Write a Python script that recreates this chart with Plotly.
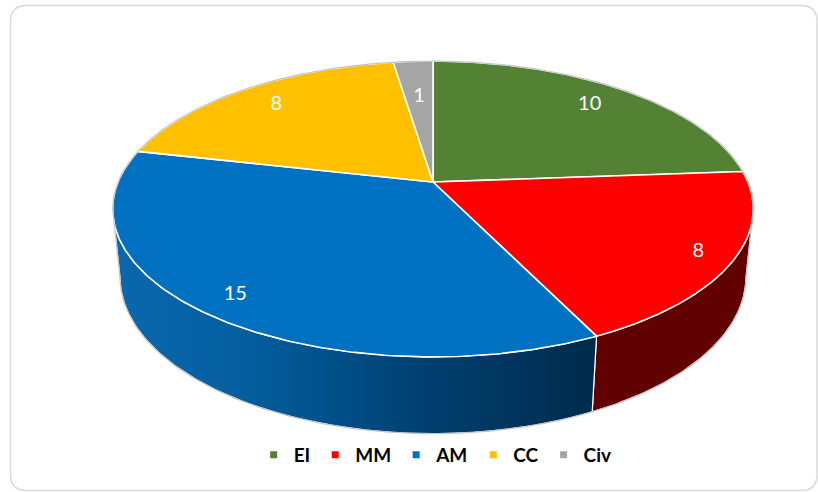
import numpy as np
import plotly.graph_objects as go

# ---------------- data ----------------
categories = ["EI", "MM", "AM", "CC", "Civ"]
values = [10, 8, 15, 8, 1]
top_colors = ["#548235", "#FF0000", "#0070C0", "#FFC000", "#A5A5A5"]
side_colors = ["#2E4A1D", "#600000", "#003E6B", "#8C6A00", "#5A5A5A"]

# ---------------- 3D-pie projection (layout parameters) ----------------
W, H_PX = 818, 492
CX, CY = 433.0, 182.0       # screen position of pie centre (top face)
F = 1539.0                  # focal length in px
D = 4.886                   # camera distance (in radii)
ALPHA = np.radians(27.0)    # camera tilt
DEPTH = 0.244               # pie thickness (in radii)
LABEL_INSET = 36.0          # label distance inside the rim, px


def proj(theta_deg, r, Y):
    phi = np.radians(90.0 - np.asarray(theta_deg, dtype=float))
    X = r * np.cos(phi)
    Z = r * np.sin(phi)
    yc = Y * np.cos(ALPHA) + Z * np.sin(ALPHA)
    zc = D - Y * np.sin(ALPHA) + Z * np.cos(ALPHA)
    return CX + F * X / zc, CY - F * yc / zc


total = float(sum(values))
bounds = np.concatenate([[0.0], np.cumsum(values)]) / total * 360.0

# visible front arc of the cylinder side (silhouette extremities)
phi_r = np.degrees(np.arcsin(-np.cos(ALPHA) / D))
TH_R = 90.0 - phi_r           # right extremity (clockwise angle from top)
TH_L = 360.0 - TH_R           # left extremity

fig = go.Figure()

# ---- sides ----
for i, cat in enumerate(categories):
    a = max(bounds[i], TH_R)
    b = min(bounds[i + 1], TH_L)
    if b <= a:
        continue
    t = np.linspace(a, b, 120)
    xt, yt = proj(t, 1.0, 0.0)
    xb, yb = proj(t[::-1], 1.0, -DEPTH)
    xs = np.concatenate([xt, xb, xt[:1]])
    ys = np.concatenate([yt, yb, yt[:1]])
    kw = dict(fillcolor=side_colors[i])
    if cat == "AM":
        kw = dict(fillgradient=dict(
            type="horizontal",
            colorscale=[[0.0, "#0B68AE"], [0.24, "#0560A1"], [0.45, "#00508A"],
                        [0.63, "#004171"], [0.84, "#00345C"], [1.0, "#002A4A"]]))
    fig.add_trace(go.Scatter(x=xs, y=ys, mode="lines", fill="toself",
                             line=dict(color="white", width=1.2),
                             showlegend=False, hoverinfo="skip", **kw))

# ---- top faces ----
for i, cat in enumerate(categories):
    t = np.linspace(bounds[i], bounds[i + 1], 200)
    xa, ya = proj(t, 1.0, 0.0)
    xs = np.concatenate([[CX], xa, [CX]])
    ys = np.concatenate([[CY], ya, [CY]])
    fig.add_trace(go.Scatter(x=xs, y=ys, mode="lines", fill="toself",
                             fillcolor=top_colors[i],
                             line=dict(color="white", width=1.6),
                             showlegend=False, hoverinfo="skip"))

# ---- silhouette outline ----
tb = np.linspace(TH_L, TH_R + 360.0, 400)
xb1, yb1 = proj(tb, 1.0, 0.0)
tf = np.linspace(TH_R, TH_L, 300)
xb2, yb2 = proj(tf, 1.0, -DEPTH)
sx = np.concatenate([xb1, xb2, xb1[:1]])
sy = np.concatenate([yb1, yb2, yb1[:1]])
fig.add_trace(go.Scatter(x=sx, y=sy, mode="lines",
                         line=dict(color="#C4C4C4", width=1.2),
                         showlegend=False, hoverinfo="skip"))

# ---- data labels: a fixed distance inside the rim along each mid-radius ----
mids = (bounds[:-1] + bounds[1:]) / 2.0
rx, ry = proj(mids, 1.0, 0.0)
vx, vy = rx - CX, ry - CY
vlen = np.hypot(vx, vy)
lx = rx - LABEL_INSET * vx / vlen
ly = ry - LABEL_INSET * vy / vlen
fig.add_trace(go.Scatter(x=lx, y=ly, mode="text",
                         text=[str(v) for v in values],
                         textposition="middle center",
                         textfont=dict(family="Lato", size=20, color="white"),
                         showlegend=False, hoverinfo="skip"))

# ---- legend entries ----
for i, cat in enumerate(categories):
    fig.add_trace(go.Scatter(x=[None], y=[None], mode="markers", name=cat,
                             marker=dict(symbol="square", size=7,
                                         color=top_colors[i])))

# ---- chart border ----
x0, x1, y0, y1, rr = 10.5, 817.0, 5.5, 490.5, 16.0
border = (f"M {x0+rr},{y0} L {x1-rr},{y0} Q {x1},{y0} {x1},{y0+rr} "
          f"L {x1},{y1-rr} Q {x1},{y1} {x1-rr},{y1} L {x0+rr},{y1} "
          f"Q {x0},{y1} {x0},{y1-rr} L {x0},{y0+rr} Q {x0},{y0} {x0+rr},{y0} Z")

fig.update_layout(
    width=W, height=H_PX,
    margin=dict(l=0, r=0, t=0, b=0),
    paper_bgcolor="white", plot_bgcolor="white",
    xaxis=dict(range=[0, W], visible=False, fixedrange=True),
    yaxis=dict(range=[H_PX, 0], visible=False, fixedrange=True),
    shapes=[dict(type="path", path=border, xref="x", yref="y",
                 line=dict(color="#D9D9D9", width=1.5), layer="below")],
    legend=dict(orientation="h", x=0.532, xanchor="center",
                y=1 - 455.0 / H_PX, yanchor="middle",
                font=dict(family="Lato", size=19, color="black", weight="bold"),
                itemclick=False, itemdoubleclick=False,
                bgcolor="rgba(0,0,0,0)", tracegroupgap=0),
)

fig.write_html(
    "out.html",
    config={"displayModeBar": False},
    post_script="document.body.style.margin='0px';document.body.style.overflow='hidden';",
)
